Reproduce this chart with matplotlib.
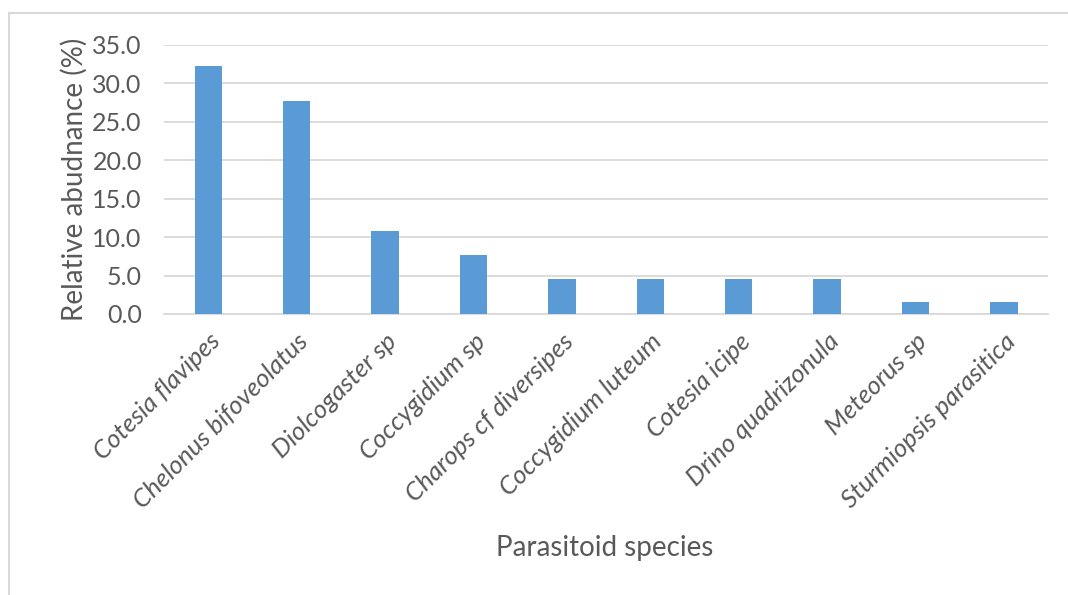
import matplotlib
matplotlib.use("Agg")
import matplotlib.pyplot as plt
import numpy as np

species = [
    "Cotesia flavipes",
    "Chelonus bifoveolatus",
    "Diolcogaster sp",
    "Coccygidium sp",
    "Charops cf diversipes",
    "Coccygidium luteum",
    "Cotesia icipe",
    "Drino quadrizonula",
    "Meteorus sp",
    "Sturmiopsis parasitica",
]
abundance = [32.3, 27.7, 10.8, 7.7, 4.6, 4.6, 4.6, 4.6, 1.5, 1.5]
yticks = [0, 5, 10, 15, 20, 25, 30, 35]

plt.rcParams["font.family"] = ["Lato", "DejaVu Sans"]
text_color = "#595959"
grid_color = "#d9d9d9"

fig = plt.figure(figsize=(10.68, 5.95), dpi=100)
ax = fig.add_axes([0.1536, 0.4723, 0.8277, 0.4521])

x = np.arange(len(species))
ax.bar(x, abundance, width=0.31, color="#5b9bd5", zorder=3)

ax.set_xlim(-0.5, len(species) - 0.5)
ax.set_ylim(0, 35)
ax.set_yticks(yticks)
ax.set_yticklabels([f"{v:.1f}" for v in yticks], fontsize=18, color=text_color)
ax.yaxis.grid(True, color=grid_color, linewidth=1.3, zorder=0)

ax.set_xticks(x)
ax.set_xticklabels(species, rotation=45, ha="right", rotation_mode="anchor",
                   fontsize=18.5, style="italic", color=text_color)
ax.tick_params(axis="both", length=0)
ax.tick_params(axis="y", pad=16)
ax.tick_params(axis="x", pad=11)

for side in ["top", "right", "left"]:
    ax.spines[side].set_visible(False)
ax.spines["bottom"].set_color(grid_color)
ax.spines["bottom"].set_linewidth(1.3)

ax.set_ylabel("Relative abudnance (%)", fontsize=20, color=text_color, labelpad=3)
fig.text(0.5665, 0.079, "Parasitoid species", fontsize=20, color=text_color,
         ha="center", va="center")

# chart frame (cropped on the right and bottom)
fig.add_artist(plt.Line2D([0.0084, 1.0], [0.978, 0.978], color="#d9d9d9",
                          linewidth=1.5, transform=fig.transFigure))
fig.add_artist(plt.Line2D([0.0084, 0.0084], [0.0, 0.978], color="#d9d9d9",
                          linewidth=1.5, transform=fig.transFigure))

fig.savefig("out.png", dpi=100)
